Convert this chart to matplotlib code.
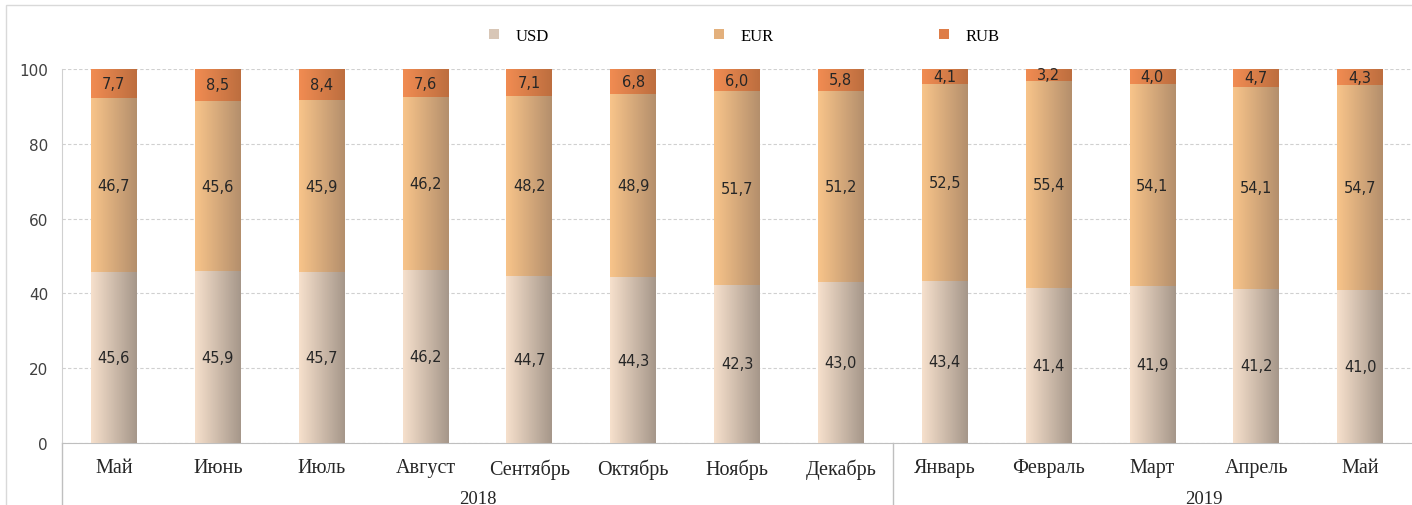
import numpy as np
import matplotlib.pyplot as plt
from matplotlib.colors import LinearSegmentedColormap
from matplotlib.patches import Patch, Rectangle

# данные
months = ['Май', 'Июнь', 'Июль', 'Август', 'Сентябрь', 'Октябрь', 'Ноябрь', 'Декабрь',
          'Январь', 'Февраль', 'Март', 'Апрель', 'Май']
years = ['2018', '2019']
year_split = 8  # первые 8 месяцев - 2018
usd = [45.6, 45.9, 45.7, 46.2, 44.7, 44.3, 42.3, 43.0, 43.4, 41.4, 41.9, 41.2, 41.0]
eur = [46.7, 45.6, 45.9, 46.2, 48.2, 48.9, 51.7, 51.2, 52.5, 55.4, 54.1, 54.1, 54.7]
rub = [7.7, 8.5, 8.4, 7.6, 7.1, 6.8, 6.0, 5.8, 4.1, 3.2, 4.0, 4.7, 4.3]

grads = {
    'USD': ('#f6e0cc', '#a6978a'),
    'EUR': ('#f8c48a', '#b48f6c'),
    'RUB': ('#f18c52', '#bd6e3f'),
}

fig = plt.figure(figsize=(14.12, 5.06), dpi=100)
ax = fig.add_axes([62 / 1412, 1 - 444 / 506, 1 - 62 / 1412, 374 / 506])

x = np.arange(len(months))
w = 0.44
bottom = np.zeros(len(months))
grad_img = np.linspace(0, 1, 64).reshape(1, -1)
for name, vals in [('USD', usd), ('EUR', eur), ('RUB', rub)]:
    vals = np.array(vals)
    cmap = LinearSegmentedColormap.from_list(name, grads[name])
    bars = ax.bar(x, vals, w, bottom=bottom, color=grads[name][0], zorder=2)
    for b, v, b0 in zip(bars, vals, bottom):
        x0, y0 = b.get_x(), b.get_y()
        im = ax.imshow(grad_img, cmap=cmap, aspect='auto', zorder=3,
                       extent=[x0, x0 + b.get_width(), y0, y0 + b.get_height()])
        im.set_clip_path(b)
        ax.text(b.get_x() + b.get_width() / 2, b0 + v / 2, f'{v:.1f}'.replace('.', ','),
                ha='center', va='center', fontsize=10.5, color='#262626',
                family='DejaVu Sans', zorder=4)
    bottom = bottom + vals

ax.set_xlim(-0.5, len(months) - 0.5)
ax.set_ylim(0, 100)
ax.set_yticks(range(0, 101, 20))
ax.yaxis.grid(True, linestyle=(0, (3, 2)), color='#d0d0d0', linewidth=0.8, zorder=0)
ax.set_axisbelow(True)
for s in ['top', 'right']:
    ax.spines[s].set_visible(False)
ax.spines['left'].set_color('#d0d0d0')
ax.spines['bottom'].set_color('#bfbfbf')
ax.tick_params(axis='y', length=0, pad=10, labelsize=11, labelcolor='#404040')
ax.tick_params(axis='x', length=0, pad=11)
ax.set_xticks(x)
ax.set_xticklabels(months, family='Liberation Serif', fontsize=14.5, color='#262626')
ax.set_yticklabels([str(v) for v in range(0, 101, 20)])

# подписи годов и разделители
trans = ax.get_xaxis_transform()
for xs in [-0.5, year_split - 0.5]:
    ax.plot([xs, xs], [0, -0.17], transform=trans, color='#bfbfbf', lw=1, clip_on=False)
ax.text((year_split - 1) / 2, -0.148, years[0], transform=trans, ha='center', va='center',
        family='Liberation Serif', fontsize=13.5, color='#262626')
ax.text((year_split + len(months) - 1) / 2 + 0.5, -0.148, years[1], transform=trans,
        ha='center', va='center', family='Liberation Serif', fontsize=13.5, color='#262626')

# легенда
handles = [Patch(facecolor=c) for c in ['#d8c6b6', '#e3b07c', '#de7d48']]
fig.legend(handles, list(grads.keys()), loc='center', bbox_to_anchor=(0.527, 1 - 37 / 506),
           ncol=3, frameon=False, handlelength=0.6, handleheight=0.6, columnspacing=9.9,
           handletextpad=1.0, prop={'family': 'Liberation Serif', 'size': 12})

# рамка вокруг диаграммы
fig.patches.append(Rectangle((6 / 1412, -0.01), 1.01, 1 - 6 / 506 + 0.01, transform=fig.transFigure,
                             fill=False, edgecolor='#d9d9d9', lw=1))

fig.savefig('out.png', dpi=100)
